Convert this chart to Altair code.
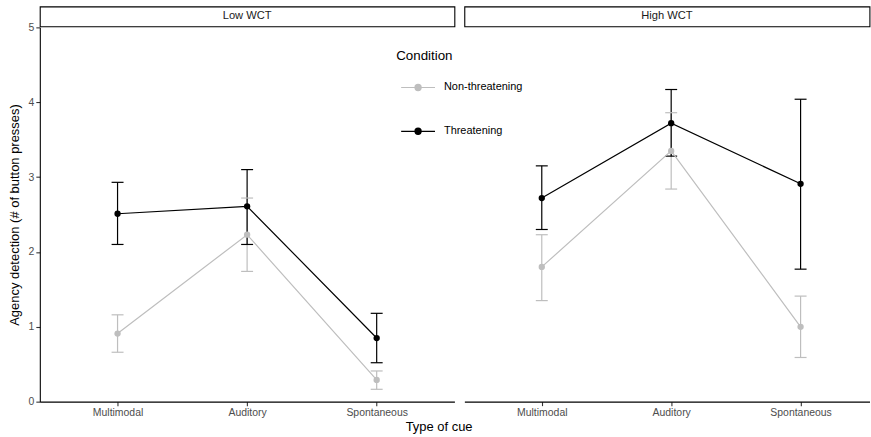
import altair as alt
import pandas as pd

FONT = "Liberation Sans"

panels = ["Low WCT", "High WCT"]
cues = ["Multimodal", "Auditory", "Spontaneous"]
conditions = ["Non-threatening", "Threatening"]

# Low WCT
low_non_mean = [0.91, 2.23, 0.29]
low_non_lo = [0.66, 1.74, 0.165]
low_non_hi = [1.16, 2.72, 0.41]
low_thr_mean = [2.51, 2.61, 0.85]
low_thr_lo = [2.10, 2.10, 0.52]
low_thr_hi = [2.93, 3.10, 1.18]
# High WCT
high_non_mean = [1.80, 3.35, 1.00]
high_non_lo = [1.35, 2.84, 0.59]
high_non_hi = [2.23, 3.86, 1.41]
high_thr_mean = [2.72, 3.72, 2.91]
high_thr_lo = [2.30, 3.28, 1.77]
high_thr_hi = [3.15, 4.17, 4.04]

series = [
    (panels[0], conditions[0], low_non_mean, low_non_lo, low_non_hi),
    (panels[0], conditions[1], low_thr_mean, low_thr_lo, low_thr_hi),
    (panels[1], conditions[0], high_non_mean, high_non_lo, high_non_hi),
    (panels[1], conditions[1], high_thr_mean, high_thr_lo, high_thr_hi),
]
rows = []
for panel, cond, means, los, his in series:
    for c, m, lo, hi in zip(cues, means, los, his):
        rows.append(dict(panel=panel, condition=cond, cue=c, mean=m, lo=lo, hi=hi))
df = pd.DataFrame(rows)

color_scale = alt.Scale(domain=conditions, range=["#bebebe", "#000000"])


def circ(r):
    return f"M{-r},0a{r},{r} 0 1,0 {2*r},0a{r},{r} 0 1,0 {-2*r},0"


symbol_path = "M-1,0L1,0" + "".join(circ(r) for r in [0.182, 0.124, 0.065, 0.018])

legend = alt.Legend(
    title="Condition", orient="none", legendX=358, legendY=43,
    titleFont=FONT, titleFontSize=13.4, titleFontWeight="normal", titleColor="black",
    titlePadding=7, labelFont=FONT, labelFontSize=11, labelColor="black",
    symbolType=symbol_path, symbolSize=1156, symbolStrokeWidth=1.2,
    symbolOffset=4, labelOffset=8, rowPadding=20, padding=0,
)

LW, RW, H = 416.5, 407, 376


def panel_chart(name, width, xscale, show_y):
    base = alt.Chart(df).transform_filter(alt.datum.panel == name)
    x = alt.X("cue:N", sort=cues, scale=xscale, title=None,
              axis=alt.Axis(labelAngle=0))
    ysc = alt.Scale(domain=[0, 5], nice=False, zero=True)
    yax = alt.Axis(values=[0, 1, 2, 3, 4, 5], format="d",
                   title="Agency detection (# of button presses)") if show_y else None
    col = alt.Color("condition:N", scale=color_scale, sort=conditions, legend=legend)
    rule = base.mark_rule(strokeWidth=1.2).encode(
        x=x, y=alt.Y("lo:Q", scale=ysc, axis=yax), y2="hi:Q", color=col)
    tlo = base.mark_tick(size=12, thickness=1.2, opacity=1).encode(
        x=x, y=alt.Y("lo:Q", scale=ysc), color=col)
    thi = base.mark_tick(size=12, thickness=1.2, opacity=1).encode(
        x=x, y=alt.Y("hi:Q", scale=ysc), color=col)
    line = base.mark_line(strokeWidth=1.2).encode(
        x=x, y=alt.Y("mean:Q", scale=ysc), color=col)
    pts = base.mark_circle(size=40, opacity=1).encode(
        x=x, y=alt.Y("mean:Q", scale=ysc), color=col)
    return alt.layer(rule, tlo, thi, line, pts).properties(width=width, height=H)


def strip(name, width):
    return alt.Chart(pd.DataFrame({"panel": [name]})).mark_text(
        font=FONT, fontSize=11.2, color="#1a1a1a", baseline="middle", align="center"
    ).encode(
        text="panel:N", x=alt.value(width / 2), y=alt.value(10)
    ).properties(width=width, height=20,
                 view=alt.ViewBackground(stroke="black", strokeWidth=1.1, fill="white"))


left = alt.vconcat(
    strip(panels[0], LW),
    panel_chart(panels[0], LW, alt.Scale(type="point", padding=0.6, domain=cues), True),
    spacing=1, bounds="flush",
)
right = alt.vconcat(
    strip(panels[1], RW),
    panel_chart(panels[1], RW, alt.Scale(type="point", padding=0.5654, align=0.529, domain=cues), False),
    spacing=1, bounds="flush",
)

chart = alt.hconcat(left, right, spacing=7.5).resolve_scale(color="shared").properties(
    title=alt.TitleParams("Type of cue", orient="bottom", anchor="middle", font=FONT,
                          fontSize=13, fontWeight="normal", color="black", offset=3),
    padding={"left": 8, "top": 4.5, "right": 0, "bottom": 0},
    background="white",
).configure_view(stroke=None).configure_axis(
    grid=False, domainColor="black", domainWidth=1.1, tickColor="#333333", tickWidth=1.1,
    tickSize=4, labelFont=FONT, labelFontSize=10.5, labelColor="#4d4d4d", labelPadding=2,
    titleFont=FONT, titleFontSize=13, titleFontWeight="normal", titleColor="black",
    titlePadding=7,
)

chart.save("out.html", embed_options={"renderer": "svg", "actions": False})
